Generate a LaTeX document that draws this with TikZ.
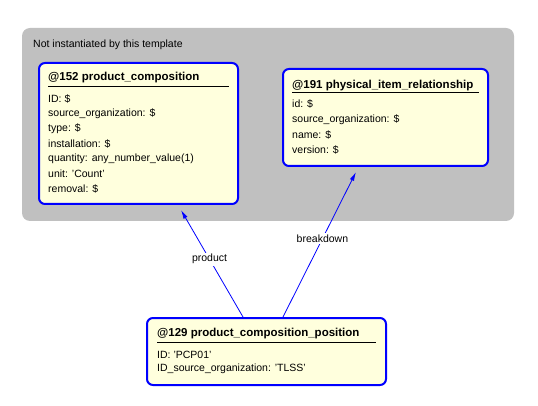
\documentclass[tikz,border=0pt]{standalone}
\usepackage{fontspec}
\setmainfont{Liberation Sans}
\usetikzlibrary{arrows.meta}

\definecolor{notegray}{RGB}{192,192,192}
\definecolor{boxfill}{RGB}{255,255,221}
\definecolor{linkblue}{RGB}{0,0,255}

\begin{document}
\begin{tikzpicture}[x=1pt,y=-1pt,
    entity/.style={draw=linkblue, line width=2pt, fill=boxfill, rounded corners=6pt, inner sep=0pt},
    title/.style={anchor=west, inner sep=0pt, font=\fontsize{11.5}{13}\selectfont\bfseries},
    attr/.style={anchor=west, inner sep=0pt, font=\fontsize{10.5}{12}\selectfont},
    assoc/.style={draw=linkblue, line width=0.8pt, -{Latex[length=9pt,width=4.5pt]}},
    role/.style={fill=white, inner sep=1.5pt, font=\fontsize{10.5}{12}\selectfont}]
    \useasboundingbox (0,0) rectangle (538,406);

    % Not instantiated area
    \fill[notegray, rounded corners=8pt] (22,28) rectangle (514,221);
    \node[attr] (note) at (33,45) {Not instantiated by this template};

    % @152 product_composition
    \node[entity, minimum width=199pt, minimum height=141pt] (pc) at (138.5,133.5) {};
    \node[title] (pc-title) at (48,78) {@152 product\_composition};
    \draw[line width=1pt] (48,87) -- (229,87);
    \foreach \a [count=\i from 0] in {ID: \$, source\_organization: \$, type: \$, installation: \$,
        quantity: any\_number\_value(1), unit: 'Count', removal: \$}
        \node[attr] (pc-\i) at (48,99+15*\i) {\a};

    % @191 physical_item_relationship
    \node[entity, minimum width=205pt, minimum height=97pt] (pir) at (385.5,117.5) {};
    \node[title] (pir-title) at (292,86) {@191 physical\_item\_relationship};
    \draw[line width=1pt] (292,93) -- (479,93);
    \foreach \a [count=\i from 0] in {id: \$, source\_organization: \$, name: \$, version: \$}
        \node[attr] (pir-\i) at (292,104+15.3*\i) {\a};

    % @129 product_composition_position
    \node[entity, minimum width=239pt, minimum height=67pt] (pcp) at (266.5,351.5) {};
    \node[title] (pcp-title) at (157,334) {@129 product\_composition\_position};
    \draw[line width=1pt] (157,342) -- (376,342);
    \node[attr] (pcp-0) at (157,355) {ID: 'PCP01'};
    \node[attr] (pcp-1) at (157,369) {ID\_source\_organization: 'TLSS'};

    % Links
    \draw[assoc] ([xshift=-23.5pt]pcp.north) -- ([xshift=42.5pt,yshift=-5pt]pc.south)
        node[role, pos=0.54] (product) {product};
    \draw[assoc] ([xshift=16.5pt]pcp.north) -- ([xshift=-29.5pt,yshift=-5pt]pir.south)
        node[role, pos=0.54] (breakdown) {breakdown};
\end{tikzpicture}
\end{document}
